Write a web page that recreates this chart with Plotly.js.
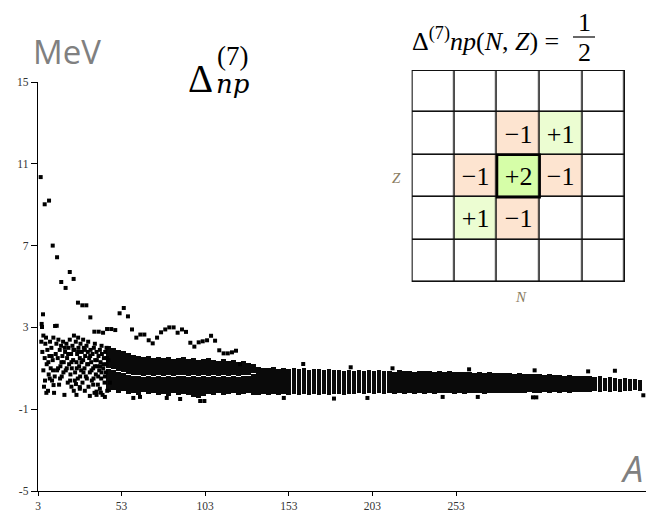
<!DOCTYPE html>
<html>
<head>
<meta charset="utf-8">
<script src="https://cdn.plot.ly/plotly-3.0.1.min.js"></script>
<style>html,body{margin:0;padding:0;background:#fff;}#chart{width:646px;height:512px;}</style>
</head>
<body>
<div id="chart"></div>
<script>
// ---------- data ----------
// decreasing top sequence of isolated points
const seqA = [4.6, 7.0, 9.6, 11.8, 14.4, 16.9, 19.5, 22.0, 24.3, 26.9, 29.5, 31.9, 34.3, 36.7, 39.3, 41.9, 44.3, 46.8, 49.2, 51.8, 54.3, 56.8, 59.2, 61.8, 64.2, 66.6, 69.2, 71.6, 74.2, 76.6, 79.1, 81.5, 84.1, 86.5, 89.1, 91.5, 94.1, 96.5, 99.1, 101.5, 104.1, 106.5, 108.9, 111.4, 114.0, 116.5, 119.0, 121.4];
const seqY = [10.35, 9.02, 9.2, 7.0, 6.43, 5.22, 4.93, 5.71, 5.37, 4.21, 4.08, 4.08, 3.49, 2.79, 2.79, 2.74, 2.92, 2.92, 2.87, 3.69, 3.95, 3.54, 2.90, 2.50, 2.65, 2.65, 2.37, 2.22, 2.50, 2.76, 2.90, 3.0, 3.0, 2.74, 2.90, 2.78, 2.25, 2.06, 2.27, 2.32, 2.37, 2.59, 2.35, 1.88, 1.73, 1.73, 1.78, 1.86];

// scattered light-nuclei cluster
const clusterA = [5.2, 5.4, 6.0, 5.0, 5.6, 6.2, 6.6, 7.0, 7.4, 7.8, 8.2, 8.6, 9.0, 9.4, 9.8, 10.2, 10.6, 11.0, 11.4, 11.8, 12.2, 12.6, 13.2, 14.2, 13.6, 14.0, 14.4, 14.8, 15.2, 15.6, 16.0, 16.4, 16.8, 17.2, 17.6, 18.0, 18.4, 18.8, 19.2, 19.6, 20.0, 20.4, 20.8, 21.2, 21.6, 22.0, 22.4, 22.8, 23.2, 23.6, 24.0, 24.4, 24.8, 25.2, 25.6, 26.0, 26.4, 26.8, 27.2, 27.6, 28.0, 28.4, 28.8, 29.2, 29.6, 30.0, 30.4, 30.8, 31.2, 31.6, 32.0, 32.4, 32.8, 33.2, 33.6, 34.0, 34.4, 34.8, 35.2, 35.6, 36.0, 36.4, 36.8, 37.2, 37.6, 38.0, 38.4, 38.8, 39.2, 39.6, 40.0, 40.4, 40.8, 41.2, 41.6, 42.0, 42.4, 42.8, 43.2, 43.6, 44.0, 44.4, 23.0, 26.0, 28.0, 31.0, 34.0, 36.0, 38.0, 40.0, 43.0, 30.0, 33.0, 37.0, 41.0, 44.0, 27.0, 24.5,
  6.2, 7.2, 8.0, 9.2, 10.0, 11.2, 12.0, 13.0, 15.0, 16.2, 17.0, 18.2, 19.0, 20.2, 21.0, 22.2, 23.0, 24.2, 25.0, 26.2, 27.0, 28.2, 29.0, 30.2, 31.0, 32.2, 33.0, 34.2, 35.0, 36.2, 37.0, 38.2, 39.0, 40.2, 41.0, 42.2, 43.0, 44.2, 45.0, 46.0];
const clusterY = [3.17, 3.02, 3.64, 2.3, 1.8, 2.6, 0.1, 1.5, 2.2, 2.5, 1.2, 1.9, -0.1, 0.7, 1.6, 2.3, 1.0, 2.0, 0.4, 1.4, 2.5, -0.2, 3.07, 3.08, 1.7, 2.2, 0.9, 1.5, 2.4, 0.2, 1.9, 1.1, 2.1, 0.6, 1.6, 2.3, 1.3, -0.3, 1.8, 0.9, 2.2, 1.5, 0.3, 2.0, 1.2, 2.4, 0.7, 1.7, 1.0, 2.1, 1.4, -0.1, 1.9, 0.8, 2.3, 1.3, 1.7, 0.5, 2.0, 1.1, 1.5, 2.2, 0.9, 1.8, 0.3, 1.4, 2.0, 1.0, 1.6, 0.6, 2.1, 1.2, 1.8, 0.1, 1.5, 0.8, 1.9, 1.3, 0.4, 1.7, 1.0, 2.0, -0.2, 1.4, 0.7, 1.8, 1.1, 0.2, 1.6, 0.9, 1.9, 1.3, 0.5, 1.7, -0.3, 1.0, 1.5, 0.3, 1.8, 0.8, 1.2, -0.1, 0.1, -0.3, 0.0, -0.1, -0.35, 0.2, -0.3, 0.0, -0.4, 2.4, 2.3, 2.2, 2.1, 2.0, 2.5, 2.6,
  0.9, 0.4, -0.2, 1.3, 0.5, 1.6, 0.9, 0.6, 1.0, 0.5, 1.3, 0.8, 2.0, 1.0, 1.7, 0.4, 1.3, 1.9, 0.4, 1.0, 1.8, 0.6, 1.3, 0.8, 1.9, 0.5, 1.2, 1.6, 0.9, 0.5, 1.1, 1.4, 0.6, 1.1, 0.8, 1.2, 0.6, 1.5, 1.4, 0.3];

// isolated points just above / below the dense band
const strayA = [123.8, 161.6, 260.8, 300.0, 332.0, 348.0, 215.0, 190.0, 266.0, 299.0, 301.0, 365.0, 200.0, 180.0, 245.0, 150.0, 100.0, 102.5, 88.0, 80.0, 60.0, 64.0, 38.0, 40.6, 12.3, 25.7, 28.0];
const strayY = [1.2, 1.21, 0.95, 0.9, 0.85, 0.88, 1.0, 1.05, -0.4, -0.42, -0.42, -0.32, -0.45, -0.48, -0.4, -0.45, -0.6, -0.6, -0.5, -0.45, -0.45, -0.4, -0.14, -0.19, 0.18, 0.23, 0.08];

// dense band (lower / main), extent per A column
const bandA  = [45, 48, 51, 54, 57, 60, 63, 66, 69, 72, 75, 78, 81, 84, 87, 90, 93, 96, 99, 102, 105, 108, 111, 114, 117, 120, 123, 126, 129, 132,
  135, 138, 141, 144, 147, 150, 153, 156, 159, 162, 165, 168, 171, 174, 177, 180, 183, 186, 189, 192, 195, 198, 201, 204, 207, 210, 213, 216, 219, 222, 225, 228, 231, 234, 237, 240, 243, 246, 249, 252, 255, 258, 261, 264, 267, 270, 273, 276, 279, 282, 285, 288, 291, 294, 297, 300, 303, 306, 309, 312, 315, 318, 321, 324, 327, 330, 333, 336, 339, 342, 345, 348, 351, 354, 357, 360, 363];
const bandLo = [-0.15, -0.05, -0.2, -0.1, -0.25, -0.2, -0.3, -0.15, -0.25, -0.2, -0.3, -0.25, -0.35, -0.2, -0.3, -0.25, -0.3, -0.4, -0.45, -0.35, -0.25, -0.3, -0.2, -0.3, -0.25, -0.2, -0.3, -0.25, -0.2, -0.3,
  -0.3, -0.25, -0.3, -0.28, -0.32, -0.25, -0.3, -0.28, -0.3, -0.25, -0.3, -0.27, -0.3, -0.25, -0.3, -0.28, -0.25, -0.3, -0.25, -0.28, -0.22, -0.27, -0.22, -0.25, -0.2, -0.25, -0.22, -0.26, -0.2, -0.24, -0.22, -0.25, -0.2, -0.24, -0.22, -0.25, -0.2, -0.23, -0.2, -0.24, -0.22, -0.25, -0.2, -0.23, -0.2, -0.24, -0.21, -0.23, -0.2, -0.22, -0.2, -0.23, -0.2, -0.22, -0.18, -0.22, -0.2, -0.18, -0.21, -0.17, -0.2, -0.16, -0.19, -0.15, -0.18, -0.15, -0.17, -0.13, -0.16, -0.12, -0.15, -0.1, -0.14, -0.1, -0.12, -0.08, -0.1];
const bandHi = [0.95, 0.9, 0.8, 0.75, 0.65, 0.6, 0.6, 0.58, 0.6, 0.58, 0.6, 0.58, 0.6, 0.58, 0.6, 0.6, 0.58, 0.6, 0.58, 0.6, 0.58, 0.6, 0.58, 0.6, 0.58, 0.6, 0.58, 0.6, 0.62, 0.7,
  1.05, 1.02, 1.0, 1.04, 0.98, 1.02, 0.95, 1.0, 0.97, 1.0, 0.92, 0.98, 0.95, 0.9, 0.95, 0.9, 0.93, 0.88, 0.92, 0.87, 0.9, 0.85, 0.9, 0.86, 0.9, 0.85, 0.88, 0.84, 0.9, 0.85, 0.88, 0.83, 0.87, 0.85, 0.88, 0.82, 0.86, 0.83, 0.85, 0.8, 0.84, 0.82, 0.8, 0.78, 0.82, 0.78, 0.8, 0.76, 0.78, 0.75, 0.78, 0.73, 0.75, 0.72, 0.74, 0.7, 0.72, 0.68, 0.7, 0.66, 0.68, 0.64, 0.66, 0.62, 0.64, 0.6, 0.62, 0.58, 0.6, 0.55, 0.57, 0.53, 0.5, 0.52, 0.46, 0.48, 0.42];

// upper sub-band for lighter nuclei
const upperA  = [45, 48, 51, 54, 57, 60, 63, 66, 69, 72, 75, 78, 81, 84, 87, 90, 93, 96, 99, 102, 105, 108, 111, 114, 117, 120, 123, 126, 129, 132];
const upperLo = [1.0, 0.95, 0.88, 0.82, 0.72, 0.66, 0.65, 0.64, 0.65, 0.64, 0.65, 0.64, 0.65, 0.64, 0.65, 0.65, 0.64, 0.65, 0.64, 0.65, 0.64, 0.65, 0.64, 0.65, 0.64, 0.65, 0.64, 0.65, 0.67, 0.75];
const upperHi = [2.1, 2.0, 1.9, 1.85, 1.75, 1.65, 1.6, 1.55, 1.6, 1.5, 1.55, 1.5, 1.55, 1.45, 1.5, 1.55, 1.45, 1.5, 1.4, 1.45, 1.5, 1.4, 1.35, 1.45, 1.35, 1.4, 1.3, 1.35, 1.25, 1.2];

// inset stencil
const gridVals = [
  [0, 0, 0, 0, 0],
  [0, 0, -1, 1, 0],
  [0, -1, 2, -1, 0],
  [0, 1, -1, 0, 0],
  [0, 0, 0, 0, 0]
];
const gridText = [
  ['', '', '', '', ''],
  ['', '', '\u22121', '+1', ''],
  ['', '\u22121', '+2', '\u22121', ''],
  ['', '+1', '\u22121', '', ''],
  ['', '', '', '', '']
];
const gridIdx = [0, 1, 2, 3, 4];

const xTicks = [3, 53, 103, 153, 203, 253];
const yTicks = [-5, -1, 3, 7, 11, 15];

// ---------- layout helpers (pixel -> paper) ----------
const L = 38, R = 646, T = 20, B = 491;
const P = x => (x - L) / (R - L);
const Q = y => (B - y) / (B - T);

const serif = 'Liberation Serif';
const mark = {symbol: 'square', size: 4, color: '#000'};

const traces = [
  {type: 'bar', x: bandA, base: bandLo, y: bandHi.map((h, i) => h - bandLo[i]), width: 2.8,
   marker: {color: '#0a0a0a', line: {width: 0}}, xaxis: 'x', yaxis: 'y', hoverinfo: 'skip'},
  {type: 'bar', x: upperA, base: upperLo, y: upperHi.map((h, i) => h - upperLo[i]), width: 2.8,
   marker: {color: '#0a0a0a', line: {width: 0}}, xaxis: 'x', yaxis: 'y', hoverinfo: 'skip'},
  {type: 'scatter', mode: 'markers', x: clusterA, y: clusterY, marker: mark, xaxis: 'x', yaxis: 'y'},
  {type: 'scatter', mode: 'markers', x: strayA, y: strayY, marker: mark, xaxis: 'x', yaxis: 'y'},
  {type: 'scatter', mode: 'markers', x: seqA, y: seqY, marker: mark, xaxis: 'x', yaxis: 'y'},
  {type: 'heatmap', x: gridIdx, y: gridIdx, z: gridVals, text: gridText, texttemplate: '%{text}',
   textfont: {family: serif, size: 26, color: '#000'},
   zmin: -1, zmax: 2, showscale: false, xgap: 1.6, ygap: 1.6,
   colorscale: [[0, '#fde4d0'], [0.166, '#fde4d0'], [0.167, '#ffffff'], [0.5, '#ffffff'],
                [0.501, '#ecfdd2'], [0.833, '#ecfdd2'], [0.834, '#d6fea8'], [1, '#d6fea8']],
   xaxis: 'x2', yaxis: 'y2', hoverinfo: 'skip'}
];

const tickFont = {family: serif, size: 11.5, color: '#333'};

function ann(text, x, y, font, extra) {
  return Object.assign({text: text, x: P(x), y: Q(y), xref: 'paper', yref: 'paper',
    xanchor: 'center', yanchor: 'middle', showarrow: false, font: font}, extra || {});
}

const annotations = [
  ann('MeV', 67, 52, {family: 'Open Sans', size: 33, color: '#808080'}),
  ann('\u0394', 200, 79, {family: serif, size: 39, color: '#000'}),
  ann('(7)', 232, 56, {family: serif, size: 27, color: '#000'}),
  ann('<i>np</i>', 233, 84, {family: 'DejaVu Serif', size: 26, color: '#000'}),
  ann('<i>A</i>', 631, 468, {family: 'Open Sans', size: 36, color: '#808080'}),
  // inset title
  ann('\u0394<sup>(7)</sup><i>np</i>(<i>N</i>, <i>Z</i>) =', 410, 39, {family: serif, size: 26, color: '#000'}, {xanchor: 'left'}),
  ann('1', 584, 22, {family: serif, size: 26, color: '#000'}, {height: 26}),
  ann('2', 584, 52, {family: serif, size: 26, color: '#000'}, {height: 26}),
  ann('<i>Z</i>', 396, 178, {family: serif, size: 15, color: '#8a7c62'}),
  ann('<i>N</i>', 521, 297, {family: serif, size: 15, color: '#8a7c62'})
];

const shapes = [
  {type: 'rect', xref: 'x2', yref: 'y2', x0: -0.5, x1: 4.5, y0: -0.5, y1: 4.5, layer: 'below',
   fillcolor: '#111', line: {width: 0}},
  {type: 'rect', xref: 'x2', yref: 'y2', x0: -0.5, x1: 4.5, y0: -0.5, y1: 4.5,
   fillcolor: 'rgba(0,0,0,0)', line: {width: 2, color: '#111'}},
  {type: 'rect', xref: 'x2', yref: 'y2', x0: 1.5, x1: 2.5, y0: 1.5, y1: 2.5,
   fillcolor: 'rgba(0,0,0,0)', line: {width: 2.5, color: '#000'}},
  {type: 'line', xref: 'paper', yref: 'paper', x0: P(573), x1: P(595), y0: Q(37), y1: Q(37),
   line: {width: 1.2, color: '#000'}}
];

const layout = {
  width: 646, height: 512,
  margin: {l: L, r: 646 - R, t: T, b: 512 - B, pad: 0},
  paper_bgcolor: '#fff', plot_bgcolor: 'rgba(0,0,0,0)',
  showlegend: false, barmode: 'overlay', bargap: 0,
  xaxis: {range: [3, 366.6], tickvals: xTicks, ticktext: xTicks.map(String), ticks: 'outside', ticklen: 4,
          tickwidth: 1, tickcolor: '#000', showline: true, linecolor: '#000', linewidth: 1.3,
          showgrid: false, zeroline: false, tickfont: tickFont, domain: [0, 1], anchor: 'y'},
  yaxis: {range: [-5, 15], tickvals: yTicks, ticktext: yTicks.map(String), ticks: 'outside', ticklen: 6,
          tickwidth: 1, tickcolor: '#000', showline: true, linecolor: '#000', linewidth: 1.3,
          showgrid: false, zeroline: false, tickfont: tickFont, domain: [0, Q(82)], anchor: 'x'},
  xaxis2: {domain: [P(411.7), P(625)], range: [-0.5, 4.5], visible: false, anchor: 'y2', fixedrange: true},
  yaxis2: {domain: [Q(282), Q(70)], range: [4.5, -0.5], visible: false, anchor: 'x2', fixedrange: true},
  annotations: annotations,
  shapes: shapes
};

Plotly.newPlot('chart', traces, layout, {staticPlot: true, displayModeBar: false});
</script>
</body>
</html>
